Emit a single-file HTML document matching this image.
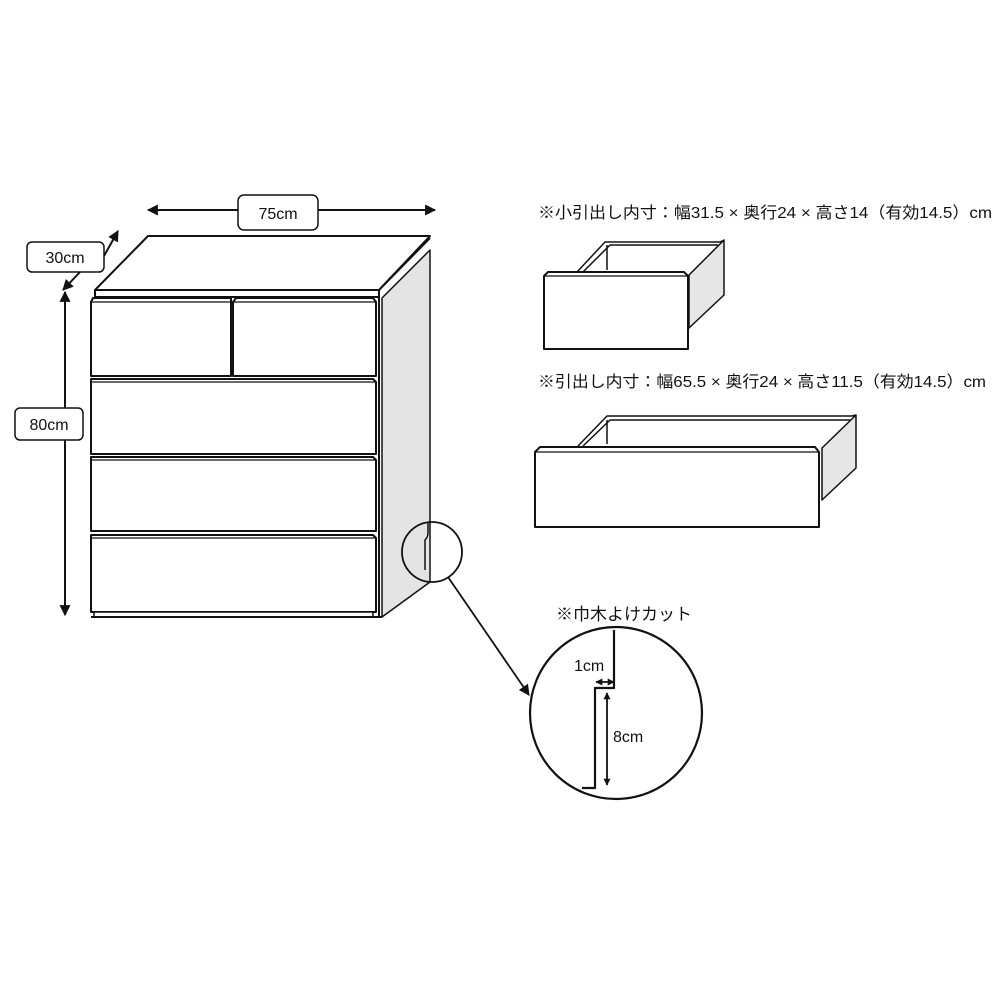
<!DOCTYPE html>
<html><head><meta charset="utf-8"><style>
html,body{margin:0;padding:0;background:#fff}
svg{display:block}
text{font-family:"Liberation Sans","Noto Sans CJK JP",sans-serif;fill:#111}
</style></head><body>
<svg width="1000" height="1000" viewBox="0 0 1000 1000" xmlns="http://www.w3.org/2000/svg">
<defs>
<marker id="ah" viewBox="0 0 10 10" refX="9" refY="5" markerWidth="12" markerHeight="11" orient="auto-start-reverse" markerUnits="userSpaceOnUse"><path d="M0,0 L10,5 L0,10 z" fill="#111"/></marker>
<marker id="ahs" viewBox="0 0 10 10" refX="9" refY="5" markerWidth="7" markerHeight="7" orient="auto-start-reverse" markerUnits="userSpaceOnUse"><path d="M0,0 L10,5 L0,10 z" fill="#111"/></marker>
</defs>
<g stroke="#111" stroke-width="2" fill="none" stroke-linejoin="round">
<!-- chest -->
<polygon points="95,290 148,236 430,236 379,290" fill="#fff"/>
<polygon points="382,298 430,250 430,582 382,617" fill="#e4e4e4" stroke-width="1.5"/>
<line x1="379" y1="290" x2="430" y2="238" />
<line x1="379" y1="290" x2="379" y2="617"/>
<rect x="95" y="290" width="284" height="7" fill="#fff"/>
<path d="M91,302 L93,298 L231,298 L231,376 L91,376 Z" fill="#fff"/>
<path d="M233,302 L236,298 L373,298 L376,302 L376,376 L233,376 Z" fill="#fff"/>
<line x1="91" y1="302" x2="231" y2="302" stroke-width="1.2"/>
<line x1="233" y1="302" x2="376" y2="302" stroke-width="1.2"/>
<path d="M91,379 L373,379 L376,382 L376,454 L91,454 Z" fill="#fff"/>
<line x1="91" y1="382" x2="376" y2="382" stroke-width="1.2"/>
<path d="M91,457 L373,457 L376,460 L376,531 L91,531 Z" fill="#fff"/>
<line x1="91" y1="460" x2="376" y2="460" stroke-width="1.2"/>
<path d="M91,535 L373,535 L376,538 L376,612 L91,612 Z" fill="#fff"/>
<line x1="91" y1="538" x2="376" y2="538" stroke-width="1.2"/>
<rect x="94" y="612" width="279" height="5" fill="#fff" stroke-width="1.5"/>
<line x1="91" y1="617" x2="382" y2="617"/>
<!-- dimensions -->
<line x1="148" y1="210" x2="238" y2="210" marker-start="url(#ah)"/>
<line x1="318" y1="210" x2="435" y2="210" marker-end="url(#ah)"/>
<rect x="238" y="195" width="80" height="35" rx="6" fill="#fff" stroke-width="1.5"/>
<line x1="104" y1="256" x2="118" y2="231" marker-end="url(#ah)"/>
<line x1="80" y1="272" x2="63" y2="290" marker-end="url(#ah)"/>
<rect x="27" y="242" width="77" height="30" rx="5" fill="#fff" stroke-width="1.5"/>
<line x1="65" y1="292" x2="65" y2="408" marker-start="url(#ah)"/>
<line x1="65" y1="440" x2="65" y2="615" marker-end="url(#ah)"/>
<rect x="15" y="408" width="68" height="32" rx="5" fill="#fff" stroke-width="1.5"/>
<!-- magnifier -->
<circle cx="432" cy="552" r="30" stroke-width="1.8"/>
<path d="M428,523 L428,533 Q428,537 425,540 L425,570" stroke-width="1.5"/>
<line x1="448" y1="577" x2="529" y2="695" marker-end="url(#ah)" stroke-width="1.8"/>
<circle cx="616" cy="713" r="86" stroke-width="2.2"/>
<path d="M614,630 L614,688 L595,688 L595,788 L582,788" stroke-width="2.2"/>
<line x1="596" y1="682" x2="614" y2="682" stroke-width="1.8" marker-start="url(#ahs)" marker-end="url(#ahs)"/>
<line x1="607" y1="693" x2="607" y2="785" stroke-width="1.8" marker-start="url(#ahs)" marker-end="url(#ahs)"/>
<!-- small drawer -->
<polygon points="689,275 724,240 724,295 689,328" fill="#e6e6e6" stroke-width="1.5"/>
<path d="M577,272 L605,242 L720,242 L724,240 M583,272 L610,245 L718,245 M607,245 L607,270" stroke-width="1.5"/>
<polygon points="544,276 548,272 684,272 688,276 688,349 544,349" fill="#fff"/>
<line x1="544" y1="276" x2="688" y2="276" stroke-width="1.2"/>
<!-- large drawer -->
<polygon points="822,448 856,415 856,468 822,500" fill="#e6e6e6" stroke-width="1.5"/>
<path d="M578,446 L607,416 L852,416 L856,415 M583,446 L610,420 L850,420 M607,420 L607,444" stroke-width="1.5"/>
<polygon points="535,452 540,447 815,447 819,452 819,527 535,527" fill="#fff"/>
<line x1="535" y1="452" x2="819" y2="452" stroke-width="1.2"/>
</g>
<g font-size="16">
<text x="278" y="219" text-anchor="middle">75cm</text>
<text x="65" y="263" text-anchor="middle">30cm</text>
<text x="49" y="430" text-anchor="middle">80cm</text>
<text x="574" y="671">1cm</text>
<text x="613" y="742">8cm</text>
<text x="556" y="620" font-size="17">※巾木よけカット</text>
<text x="538" y="218" font-size="16" textLength="454" lengthAdjust="spacingAndGlyphs">※小引出し内寸：幅31.5 × 奥行24 × 高さ14（有効14.5）cm</text>
<text x="538" y="387" font-size="16" textLength="448" lengthAdjust="spacingAndGlyphs">※引出し内寸：幅65.5 × 奥行24 × 高さ11.5（有効14.5）cm</text>
</g>
</svg>
</body></html>
